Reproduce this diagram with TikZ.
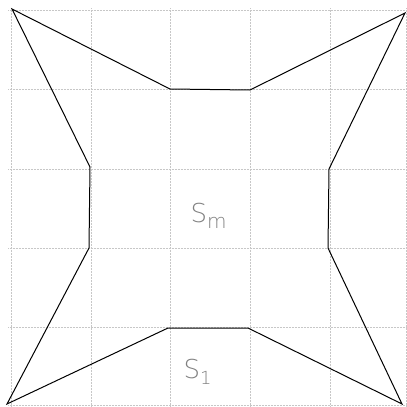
\documentclass[tikz,border=0pt]{standalone}
\usepackage{fontspec}
\setmainfont{DejaVu Sans}
\newfontfamily\handfont{DejaVu Sans ExtraLight}
\begin{document}
\begin{tikzpicture}[x=1pt,y=-1pt,
  gridline/.style={draw=black!22, line width=0.5pt, densely dotted},
  outline/.style={draw=black, line width=1pt, line join=miter},
  lbl/.style={text=black!50, font=\fontsize{26}{28}\selectfont\handfont}]
\useasboundingbox (0,0) rectangle (407,407);
% grid
\foreach \x in {11,91,170,250,330,406} \draw[gridline] (\x,8) -- (\x,407);
\foreach \y in {10,89,169,248,327,405} \draw[gridline] (8,\y) -- (407,\y);
% outline
\coordinate (a) at (12,9);
\coordinate (b) at (170,89);
\coordinate (c) at (250,90);
\coordinate (d) at (405,13);
\coordinate (e) at (329,169);
\coordinate (f) at (328,248);
\coordinate (g) at (402,404);
\coordinate (h) at (248,328);
\coordinate (i) at (168,328);
\coordinate (j) at (7,404);
\coordinate (k) at (89,248);
\coordinate (l) at (90,167);
\draw[outline] (a) -- (b) -- (c) -- (d) -- (e) -- (f) -- (g) -- (h) -- (i) -- (j) -- (k) -- (l) -- cycle;
% labels
\node[lbl, anchor=base west] (sm) at (187,222) {S\raisebox{-6pt}{\fontsize{20}{22}\selectfont m}};
\node[lbl, anchor=base west] (s1) at (180,378) {S\raisebox{-6pt}{\fontsize{18}{20}\selectfont 1}};
\end{tikzpicture}
\end{document}
